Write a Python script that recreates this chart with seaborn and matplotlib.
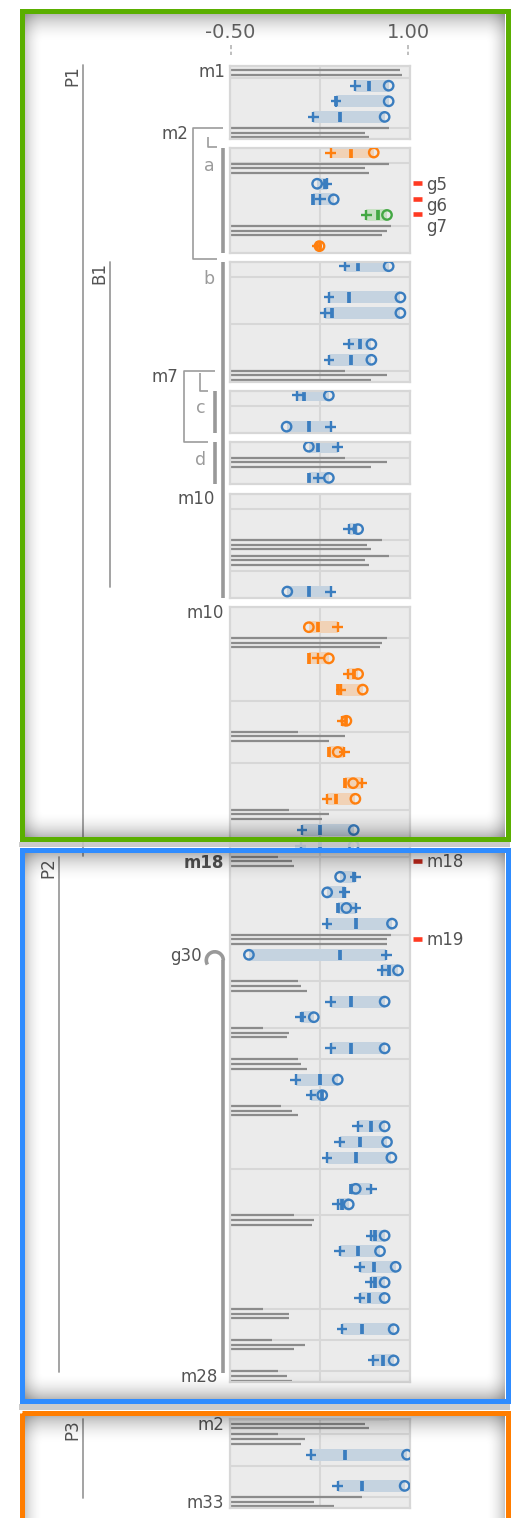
import numpy as np
import pandas as pd
import matplotlib
matplotlib.use("Agg")
import matplotlib.pyplot as plt
from matplotlib.patches import Rectangle, Arc
import seaborn as sns

sns.set_theme(style="white")
plt.rcParams["font.family"] = ["DejaVu Sans"]

# ---------------------------------------------------------------- data
# slot layout of each stacked panel: L = reference line triplet,
# P = interval row (plus / median / circle), E = empty row
PANEL_LAYOUTS = [
    "LPPPL",
    "PLPPPLP",
    "PEPPEPPL",
    "PEP",
    "PLP",
    "EEPLLEP",
    "EPLPPPEPLPEPPLPPLPPPPLPPLPPLPLPPLPPPEPPLPPPPPLPLPL",
    "LLPEPL",
]

ROW_SERIES = [
    "blue", "blue", "blue",
    "orange", "blue", "blue", "green", "orange",
    "blue", "blue", "blue", "blue", "blue",
    "blue", "blue",
    "blue", "blue",
    "blue", "blue",
    "orange", "orange", "orange", "orange", "orange", "orange", "orange", "orange",
    "blue", "blue", "blue", "blue", "blue", "blue", "blue", "blue", "blue", "blue",
    "blue", "blue", "blue", "blue", "blue", "blue", "blue", "blue", "blue", "blue",
    "blue", "blue", "blue", "blue", "blue",
    "blue", "blue",
]
ROW_PLUS = [
    0.553, 0.39, 0.197,
    0.343, 0.315, 0.258, 0.646, 0.23,
    0.463, 0.329, 0.30, 0.497, 0.329,
    0.062, 0.345,
    0.404, 0.239,
    0.497, 0.345,
    0.404, 0.235, 0.491, 0.432, 0.44, 0.46, 0.61, 0.315,
    0.104, 0.09, 0.553, 0.463, 0.556, 0.315, 0.815, 0.778, 0.345, 0.09,
    0.345, 0.048, 0.177, 0.573, 0.42, 0.312, 0.688, 0.404, 0.688, 0.42,
    0.59, 0.683, 0.59, 0.441, 0.705,
    0.18, 0.404,
]
ROW_MEDIAN = [
    0.666, 0.39, 0.42,
    0.517, 0.30, 0.197, 0.741, 0.25,
    0.576, 0.497, 0.357, 0.596, 0.52,
    0.118, 0.16,
    0.239, 0.16,
    0.55, 0.16,
    0.239, 0.16, 0.54, 0.407, 0.477, 0.329, 0.463, 0.39,
    0.253, 0.253, 0.545, 0.455, 0.404, 0.556, 0.424, 0.834, 0.517, 0.10,
    0.517, 0.253, 0.273, 0.688, 0.596, 0.556, 0.517, 0.441, 0.722, 0.576,
    0.708, 0.722, 0.671, 0.612, 0.784,
    0.463, 0.612,
]
ROW_CIRCLE = [
    0.834, 0.834, 0.80,
    0.708, 0.23, 0.37, 0.82, 0.25,
    0.834, 0.933, 0.933, 0.688, 0.688,
    0.329, -0.028,
    0.16, 0.329,
    0.576, -0.022,
    0.16, 0.329, 0.576, 0.615, 0.477, 0.404, 0.534, 0.553,
    0.539, 0.539, 0.424, 0.315, 0.477, 0.862, -0.346, 0.913, 0.80, 0.202,
    0.80, 0.404, 0.273, 0.80, 0.82, 0.857, 0.556, 0.497, 0.80, 0.761,
    0.893, 0.80, 0.80, 0.876, 0.876,
    0.989, 0.969,
]

LINE_1 = [0.944, 0.834, 0.834, 0.857, 0.463, 0.463, 0.778, 0.837, 0.82, 0.07, -0.005, -0.098,
          0.857, 0.07, -0.23, 0.07, -0.079, 0.034, -0.23, -0.155, -0.098, 0.837, -0.098, 0.612]
LINE_2 = [0.93, 0.632, 0.632, 0.82, 0.82, 0.82, 0.652, 0.632, 0.78, 0.463, 0.332, 0.014,
          0.82, 0.09, -0.005, 0.09, 0.014, 0.202, -0.005, 0.126, -0.025, 0.632, 0.126, 0.20]
LINE_3 = [0.944, 0.666, 0.666, 0.78, 0.688, 0.688, 0.688, 0.669, 0.764, 0.332, 0.275, 0.034,
          0.82, 0.146, -0.025, 0.146, 0.07, 0.183, -0.005, 0.034, 0.014, 0.669, 0.09, 0.37]

TICK_VALUES = [-0.5, 1.0]
TICK_LABELS = ["-0.50", "1.00"]

LEFT_LABELS = ["m1", "m2", "m7", "m10", "m10", "m18", "g30", "m28", "m2", "m33"]
LEFT_ANCHORS = [(0, 0), (0, 4), (2, 7), (5, 0), (6, 0), (6, 16), (6, 22), (6, 49), (7, 0), (7, 5)]
GROUP_LABELS = ["a", "b", "c", "d"]
SECTION_LABELS = ["P1", "B1", "P2", "P3"]
RIGHT_LABELS = ["g5", "g6", "g7", "m18", "m19"]
RIGHT_ANCHORS = [(1, 2), (1, 3), (1, 4), (6, 16), (6, 21)]
RIGHT_FLAGS = ["#ff3a22", "#ff3a22", "#ff3a22", "#c0281c", "#ff3a22"]

SERIES_COLORS = {"blue": "#3a7dbf", "orange": "#ff7f0e", "green": "#44a844"}
BAND_COLORS = {"blue": "#c5d3e0", "orange": "#f1d2b6", "green": "#c8e1c4"}

# ---------------------------------------------------------------- layout (pixels)
FIG_W, FIG_H = 513, 1518
SLOT = 15.6
PAD_TOP, PAD_BOT = 4.4, 6.4
PANEL_STEP = 20.05
AX_LEFT, AX_W = 229.5, 180.0
XMIN, XMAX = -0.51, 1.01
GRID = "#d7d7d7"
TEXT = "#535353"
LIGHT = "#9b9b9b"

FIRST_CENTERS = []
_c = 70.1
for lay in PANEL_LAYOUTS[:-1]:
    FIRST_CENTERS.append(_c)
    _c += (len(lay) - 1) * SLOT + PANEL_STEP
FIRST_CENTERS.append(1423.5)


def slot_px(p, i):
    return FIRST_CENTERS[p] + i * SLOT


def panel_top(p):
    return FIRST_CENTERS[p] - PAD_TOP


def panel_bottom(p):
    return slot_px(p, len(PANEL_LAYOUTS[p]) - 1) + PAD_BOT


def x_px(v):
    return AX_LEFT + (v - XMIN) / (XMAX - XMIN) * AX_W


p_slots, l_slots = [], []
for p, lay in enumerate(PANEL_LAYOUTS):
    for i, ch in enumerate(lay):
        if ch == "P":
            p_slots.append((p, i))
        elif ch == "L":
            l_slots.append((p, i))

rows = pd.DataFrame({"series": ROW_SERIES, "plus": ROW_PLUS,
                     "median": ROW_MEDIAN, "circle": ROW_CIRCLE})
rows["panel"] = [p for p, _ in p_slots]
rows["slot"] = [i for _, i in p_slots]
rows["lo"] = rows[["plus", "median", "circle"]].min(axis=1)
rows["hi"] = rows[["plus", "median", "circle"]].max(axis=1)

lines = pd.DataFrame({"len1": LINE_1, "len2": LINE_2, "len3": LINE_3})
lines["panel"] = [p for p, _ in l_slots]
lines["slot"] = [i for _, i in l_slots]

EXTRA_RULES = {0: [0.53]}

# ---------------------------------------------------------------- figure
fig = plt.figure(figsize=(FIG_W / 100, FIG_H / 100), dpi=100)
fig.patch.set_facecolor("white")

ax_bg = fig.add_axes([0, 0, 1, 1], zorder=0)
ax_bg.set_xlim(0, FIG_W)
ax_bg.set_ylim(FIG_H, 0)
ax_bg.axis("off")

panel_axes = []
for p, lay in enumerate(PANEL_LAYOUTS):
    top, bot = panel_top(p), panel_bottom(p)
    ax = fig.add_axes([AX_LEFT / FIG_W, 1 - bot / FIG_H, AX_W / FIG_W, (bot - top) / FIG_H], zorder=1)
    panel_axes.append(ax)
    ax.set_facecolor("#ebebeb")
    n = len(lay)
    for s in ax.spines.values():
        s.set_color(GRID)
        s.set_linewidth(1.6)
    ax.axvline(0.25, color=GRID, lw=1.5, zorder=0.5)
    for i, ch in enumerate(lay):
        if i > 0 and ch in "LE":
            ax.axhline(i - 0.3, color=GRID, lw=1.5, zorder=0.5)
    for yv in EXTRA_RULES.get(p, []):
        ax.axhline(yv, color=GRID, lw=1.5, zorder=0.5)

    sub = lines[lines.panel == p]
    if len(sub):
        for off, col in zip((-0.295, 0.0, 0.295), ("len1", "len2", "len3")):
            ax.hlines(sub.slot + off, -0.5, sub[col], color="#8b8b8b", lw=1.6, zorder=1)

    sr = rows[rows.panel == p]
    if len(sr):
        ax.barh(sr.slot, sr.hi - sr.lo, left=sr.lo, height=0.76,
                color=[BAND_COLORS[s] for s in sr.series], lw=0, zorder=1.5)
        sns.scatterplot(data=sr, x="median", y="slot", hue="series", palette=SERIES_COLORS,
                        marker="|", s=56, linewidth=2.7, legend=False, ax=ax, zorder=2)
        sns.scatterplot(data=sr, x="plus", y="slot", hue="series", palette=SERIES_COLORS,
                        marker="+", s=58, linewidth=1.7, legend=False, ax=ax, zorder=3)
        sns.scatterplot(data=sr, x="circle", y="slot", hue="series", palette=SERIES_COLORS,
                        marker="o", s=46, linewidth=1.7, legend=False, ax=ax, zorder=4)
        circ = ax.collections[-1]
        circ.set_facecolor("none")
        circ.set_edgecolor([SERIES_COLORS[s] for s in sr.series])
    ax.set_xlim(XMIN, XMAX)
    ax.set_ylim(n - 1 + PAD_BOT / SLOT, -PAD_TOP / SLOT)
    ax.set(xticks=[], yticks=[], xlabel="", ylabel="")

# top value axis
for v, lab in zip(TICK_VALUES, TICK_LABELS):
    xp = x_px(v)
    ax_bg.text(xp, 33, lab, ha="center", va="center", fontsize=14, color="#646464")
    ax_bg.plot([xp, xp], [45, 55], color="#b4b4b4", lw=1.2, ls=(0, (2.5, 1.5)))

# left labels
LEFT_EDGE = [225, 188, 178, 215, 224, 224, 202, 218, 224, 224]
for lab, (p, i), xr in zip(LEFT_LABELS, LEFT_ANCHORS, LEFT_EDGE):
    ax_bg.text(xr, slot_px(p, i) + 1.5, lab, ha="right", va="center", fontsize=12,
               color=TEXT, fontweight="bold" if lab == "m18" else "normal")

# group letters with their bars
GROUP_PANELS = [1, 2, 3, 4]
GROUP_X = [209, 209, 201, 201]
for lab, p, gx in zip(GROUP_LABELS, GROUP_PANELS, GROUP_X):
    ax_bg.text(gx, slot_px(p, 0) + 13, lab, ha="center", va="center", fontsize=12.5, color=LIGHT)

BAR = dict(color="#999999", lw=2.6, solid_capstyle="butt")
THIN = dict(color="#9c9c9c", lw=1.2, solid_capstyle="butt")
ax_bg.plot([223.3, 223.3], [panel_top(1), panel_bottom(1)], **BAR)
ax_bg.plot([223.3, 223.3], [panel_top(2), panel_bottom(5)], **BAR)
ax_bg.plot([215, 215], [panel_top(3), panel_bottom(3)], **BAR)
ax_bg.plot([215, 215], [panel_top(4), panel_bottom(4)], **BAR)

# bracket around m2 / a
y_t = slot_px(0, 4) - 5
y_b = panel_top(2) - 2.5
ax_bg.plot([223, 193, 193, 217], [y_t, y_t, y_b, y_b], **THIN)
ax_bg.plot([208, 208, 217], [panel_bottom(0) - 1.5, panel_top(1) - 1.5, panel_top(1) - 1.5], **THIN)
# bracket around m7 / c
y_t = slot_px(2, 7) - 4.5
y_b = panel_top(4)
ax_bg.plot([215, 184, 184, 208], [y_t, y_t, y_b, y_b], **THIN)
ax_bg.plot([199.5, 199.5, 208], [y_t + 2.5, panel_top(3) - 0.5, panel_top(3) - 0.5], **THIN)

# g30 hook and bar
hook_y = slot_px(6, 22) + 5.5
ax_bg.add_patch(Arc((214.8, hook_y), 17, 17, theta1=150, theta2=360, color="#999999", lw=2.6))
ax_bg.plot([223.3, 223.3], [hook_y, slot_px(6, 49) - 3], **BAR)

# section lines
SEC_X = [83.3, 110, 59.3, 83.3]
SEC_SPAN = [(panel_top(0) - 0.5, slot_px(6, 16) - 5), (panel_top(2), slot_px(5, 6) - 4.5),
            (slot_px(6, 16) - 4, slot_px(6, 49) - 4), (panel_top(7), slot_px(7, 5) - 4)]
for lab, sx, (y0, y1) in zip(SECTION_LABELS, SEC_X, SEC_SPAN):
    ax_bg.plot([sx, sx], [y0, y1], color="#9c9c9c", lw=1.3)
    ax_bg.text(sx - 1.5, y0, lab, rotation=90, ha="right", va="top", fontsize=12, color=TEXT)

# right flags and labels, pushed down so they never collide
prev = -1e9
for lab, (p, i), fc in zip(RIGHT_LABELS, RIGHT_ANCHORS, RIGHT_FLAGS):
    yf = slot_px(p, i) - 0.5
    ax_bg.plot([413, 422], [yf, yf], color=fc, lw=3.3, solid_capstyle="butt")
    yl = max(yf + 1.5, prev + 21)
    prev = yl
    ax_bg.text(426, yl, lab, ha="left", va="center", fontsize=12, color=TEXT)

# ---------------------------------------------------------------- frames and inner shadows
ax_fx = fig.add_axes([0, 0, 1, 1], zorder=5)
ax_fx.set_xlim(0, FIG_W)
ax_fx.set_ylim(FIG_H, 0)
ax_fx.axis("off")
ax_fx.patch.set_alpha(0)

FRAMES = [  # outer left, top, right, bottom, colour
    (19, 8, 510, 841.5, "#5aaf00"),
    (19, 847.5, 510, 1403.5, "#2f8cff"),
    (19, 1410, 510, 1560, "#ff7d00"),
]
LW = 5.0
yy, xx = np.mgrid[0:FIG_H, 0:FIG_W] + 0.5


def ramp(d, w, amax):
    d = np.clip(d, 0, None)
    return np.where(d < w, amax * (1 - d / w) ** 2, 0.0)


alpha = np.full((FIG_H, FIG_W), 0.0)
for x0, y0, x1, y1, _ in FRAMES:
    ix0, iy0, ix1, iy1 = x0 + LW, y0 + LW, x1 - LW, y1 - LW
    inside = (xx >= ix0) & (xx <= ix1) & (yy >= iy0) & (yy <= iy1)
    a = 1 - ((1 - ramp(yy - iy0, 30, 0.30)) * (1 - ramp(iy1 - yy, 26, 0.27))
             * (1 - ramp(xx - ix0, 20, 0.22)) * (1 - ramp(ix1 - xx, 20, 0.22)))
    alpha = np.where(inside, a, alpha)

# strips between the frames
between = ((yy > 841.5) & (yy < 847.5)) | ((yy > 1403.5) & (yy < 1410))
between &= (xx > 19) & (xx < 510)
img = np.zeros((FIG_H, FIG_W, 4))
img[..., 3] = alpha
img[between, :3] = 0.77
img[between, 3] = 0.88
ax_fx.imshow(img, extent=(0, FIG_W, FIG_H, 0), interpolation="nearest", zorder=1)

for x0, y0, x1, y1, col in FRAMES:
    ax_fx.add_patch(Rectangle((x0 + LW / 2, y0 + LW / 2), x1 - x0 - LW, y1 - y0 - LW,
                              fill=False, edgecolor=col, lw=LW * 0.72, zorder=2))
ax_fx.set_xlim(0, FIG_W)
ax_fx.set_ylim(FIG_H, 0)

fig.savefig("out.png", dpi=100)
